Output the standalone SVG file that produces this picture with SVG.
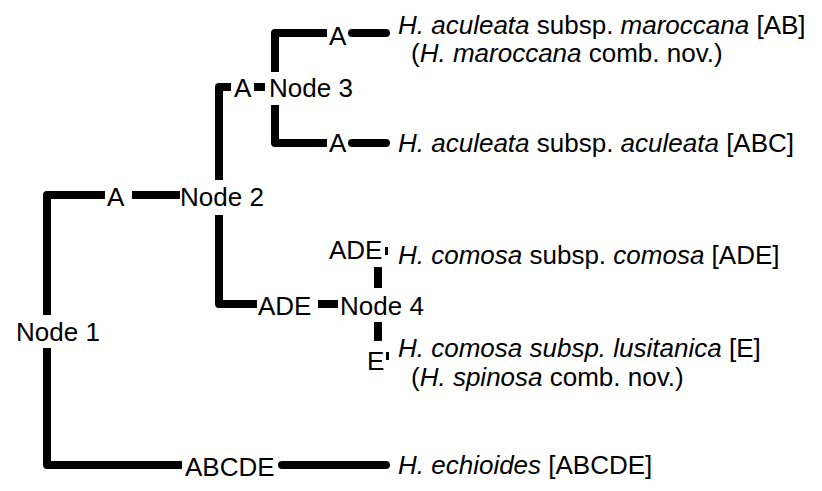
<svg xmlns="http://www.w3.org/2000/svg" width="822" height="491" viewBox="0 0 822 491">
<style>
text{font-family:"Liberation Sans",Arial,sans-serif;font-size:26px;fill:#000}
.i{font-style:italic}
.br{fill:none;stroke:#000;stroke-width:8;stroke-linejoin:round;stroke-linecap:butt}
.tip{fill:none;stroke:#000;stroke-width:8;stroke-linecap:round}
</style>
<rect width="822" height="491" fill="#fff"/>
<g id="connectors">
<path class="br" d="M275,72 V33 H327"/>
<path class="tip" d="M352,33 H386"/>
<path class="br" d="M231,87 H219 V180"/>
<path class="br" d="M254,87 H265"/>
<path class="br" d="M275,105 V143 H327"/>
<path class="tip" d="M352,143 H386"/>
<path class="br" d="M47,315 V195 H105"/>
<path class="br" d="M132,195 H180"/>
<path class="br" d="M219,215 V304 H257"/>
<path class="br" d="M318,304 H338"/>
<path class="br" d="M378,288 V267"/>
<path class="br" d="M378,322 V341"/>
<path class="br" d="M385,251 H388"/>
<path class="br" d="M386,356 H389"/>
<path class="br" d="M47,348 V465 H182"/>
<path class="tip" d="M282,465 H386"/>
</g>
<g id="node1"><text x="16" y="341">Node 1</text></g>
<g id="node2"><text x="180" y="206">Node 2</text></g>
<g id="node3"><text x="269" y="97">Node 3</text></g>
<g id="node4"><text x="340" y="315">Node 4</text></g>
<g id="labels">
<text x="329" y="45">A</text>
<text x="234" y="97">A</text>
<text x="329" y="152">A</text>
<text x="107" y="206">A</text>
<text x="258" y="315">ADE</text>
<text x="329" y="259">ADE</text>
<text x="367" y="370">E</text>
<text x="185" y="476">ABCDE</text>
</g>
<g id="taxon1"><text x="398" y="34"><tspan class="i">H. aculeata</tspan> subsp. <tspan class="i">maroccana</tspan> [AB]</text>
<text x="411" y="62">(<tspan class="i">H. maroccana</tspan> comb. nov.)</text></g>
<g id="taxon2"><text x="398" y="152"><tspan class="i">H. aculeata</tspan> subsp. <tspan class="i">aculeata</tspan> [ABC]</text></g>
<g id="taxon3"><text x="398" y="264"><tspan class="i">H. comosa</tspan> subsp. <tspan class="i">comosa</tspan> [ADE]</text></g>
<g id="taxon4"><text x="398" y="357"><tspan class="i">H. comosa subsp. lusitanica</tspan> [E]</text>
<text x="411" y="386">(<tspan class="i">H. spinosa</tspan> comb. nov.)</text></g>
<g id="taxon5"><text x="398" y="474"><tspan class="i">H. echioides</tspan> [ABCDE]</text></g>
</svg>
